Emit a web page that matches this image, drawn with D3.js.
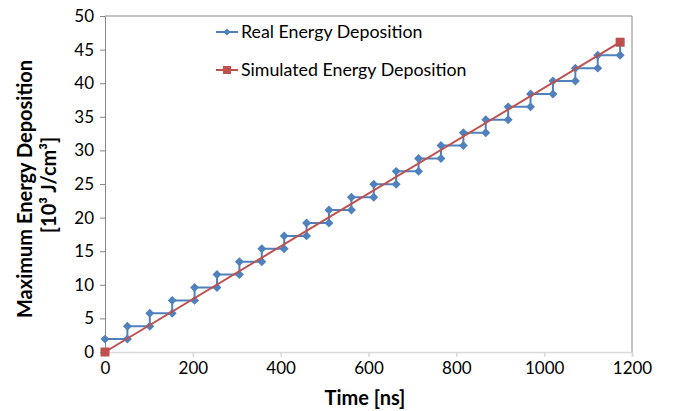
<!DOCTYPE html>
<html>
<head>
<meta charset="utf-8">
<script src="https://cdn.jsdelivr.net/npm/d3@7"></script>
<style>
body { margin: 0; background: #fff; }
text { font-family: Lato, "Open Sans", sans-serif; fill: #000; }
</style>
</head>
<body>
<script>
var w = 677;
var h = 411;

// real (stepped) energy deposition
var realTime = [0, 51, 51, 102, 102, 153, 153, 204, 204, 255, 255, 306, 306, 357, 357, 408, 408,
    459, 459, 510, 510, 561, 561, 612, 612, 663, 663, 714, 714, 765, 765, 816, 816, 867, 867,
    918, 918, 969, 969, 1020, 1020, 1071, 1071, 1122, 1122, 1173, 1173];
var realEnergy = [1.92, 1.92, 3.84, 3.84, 5.76, 5.76, 7.68, 7.68, 9.6, 9.6, 11.52, 11.52, 13.44, 13.44,
    15.36, 15.36, 17.28, 17.28, 19.2, 19.2, 21.12, 21.12, 23.04, 23.04, 24.96, 24.96, 26.88, 26.88,
    28.8, 28.8, 30.72, 30.72, 32.64, 32.64, 34.56, 34.56, 36.48, 36.48, 38.4, 38.4, 40.32, 40.32,
    42.24, 42.24, 44.16, 44.16, 46.08];
// simulated energy deposition
var simTime = [0, 1173];
var simEnergy = [0, 46.1];

var xTicks = [0, 200, 400, 600, 800, 1000, 1200];
var yTicks = [0, 5, 10, 15, 20, 25, 30, 35, 40, 45, 50];
var seriesNames = ["Real Energy Deposition", "Simulated Energy Deposition"];

var blue = "#4f81bd";
var red = "#c0504d";

var svg = d3.select("body").append("svg").attr("width", w).attr("height", h);

var xS = d3.scaleLinear().domain([0, 1200]).range([105, 632]);
var yS = d3.scaleLinear().domain([0, 50]).range([352, 16]);

// plot border (top and right)
svg.append("path")
    .attr("d", "M" + xS(0) + "," + yS(50) + "H" + xS(1200) + "V" + yS(0))
    .attr("fill", "none").attr("stroke", "#868686").attr("stroke-width", 1);

// axes
var xA = d3.axisBottom(xS).tickValues(xTicks).tickFormat(d3.format("d")).tickSize(5).tickPadding(5);
var yA = d3.axisLeft(yS).tickValues(yTicks).tickFormat(d3.format("d")).tickSize(5).tickPadding(6);

var gx = svg.append("g").attr("transform", "translate(0," + yS(0) + ")").call(xA);
gx.select(".domain").attr("stroke", "#d9d9d9").attr("stroke-width", 1.5);
gx.selectAll(".tick line").attr("stroke", "#d9d9d9").attr("stroke-width", 1.5);
gx.selectAll("text").attr("font-size", "17px").attr("fill", "#000")
    .style("font-family", "Lato, sans-serif");

var gy = svg.append("g").attr("transform", "translate(" + xS(0) + ",0)").call(yA);
gy.select(".domain").attr("stroke", "#868686").attr("stroke-width", 1);
gy.selectAll(".tick line").attr("stroke", "#868686");
gy.selectAll("text").attr("font-size", "17px").attr("fill", "#000")
    .style("font-family", "Lato, sans-serif");

// series
var line = d3.line().x(function(d) { return xS(d[0]); }).y(function(d) { return yS(d[1]); });
var realPts = realTime.map(function(t, i) { return [t, realEnergy[i]]; });
var simPts = simTime.map(function(t, i) { return [t, simEnergy[i]]; });

svg.append("path").datum(realPts).attr("d", line)
    .attr("fill", "none").attr("stroke", blue).attr("stroke-width", 2);
var diamond = d3.symbol().type(d3.symbolSquare).size(40);
svg.selectAll(".rp").data(realPts).enter().append("path").attr("class", "rp")
    .attr("d", diamond)
    .attr("transform", function(d) { return "translate(" + xS(d[0]) + "," + yS(d[1]) + ") rotate(45)"; })
    .attr("fill", blue);

svg.append("path").datum(simPts).attr("d", line)
    .attr("fill", "none").attr("stroke", red).attr("stroke-width", 2);
svg.selectAll(".sp").data(simPts).enter().append("rect").attr("class", "sp")
    .attr("x", function(d) { return xS(d[0]) - 4.5; })
    .attr("y", function(d) { return yS(d[1]) - 4.5; })
    .attr("width", 9).attr("height", 9)
    .attr("fill", red);

// legend
var lg = svg.append("g");
var lgY = [32, 70];
lg.append("line").attr("x1", 216).attr("x2", 238).attr("y1", lgY[0]).attr("y2", lgY[0])
    .attr("stroke", blue).attr("stroke-width", 2);
lg.append("path").attr("d", d3.symbol().type(d3.symbolSquare).size(26))
    .attr("transform", "translate(227," + lgY[0] + ") rotate(45)").attr("fill", blue);
lg.append("line").attr("x1", 216).attr("x2", 238).attr("y1", lgY[1]).attr("y2", lgY[1])
    .attr("stroke", red).attr("stroke-width", 2);
lg.append("rect").attr("x", 223).attr("y", lgY[1] - 4).attr("width", 8).attr("height", 8).attr("fill", red);
lg.selectAll("text").data(seriesNames).enter().append("text")
    .attr("x", 241).attr("y", function(d, i) { return lgY[i]; })
    .attr("dy", "0.35em").attr("font-size", "17.8px").text(function(d) { return d; });

// axis titles
svg.append("text").attr("x", 365).attr("y", 405).attr("text-anchor", "middle")
    .attr("font-size", "20px").attr("font-weight", "bold").text("Time [ns]");
var yt = svg.append("g").attr("transform", "rotate(-90)");
yt.append("text").attr("x", -189).attr("y", 32).attr("text-anchor", "middle")
    .attr("font-size", "20px").attr("font-weight", "bold").text("Maximum Energy Deposition");
yt.append("text").attr("x", -185).attr("y", 56).attr("text-anchor", "middle")
    .attr("font-size", "20px").attr("font-weight", "bold").text("[10³ J/cm³]");
</script>
</body>
</html>
